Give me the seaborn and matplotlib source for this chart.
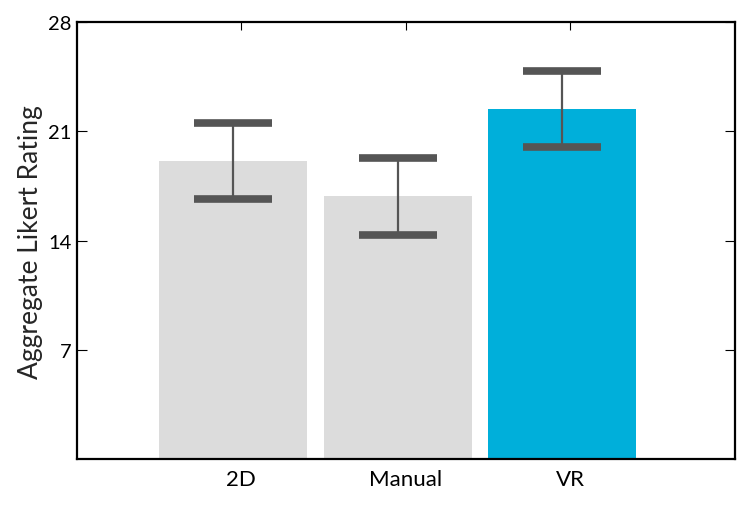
import numpy as np
import pandas as pd
import matplotlib
matplotlib.use("Agg")
import matplotlib.pyplot as plt
import seaborn as sns

conditions = ["2D", "Manual", "VR"]
mean_rating = [19.08, 16.84, 22.44]
err_rating = [2.44, 2.45, 2.43]
bar_colors = ["#dcdcdc", "#dcdcdc", "#00afda"]
y_ticks = [7, 14, 21, 28]

sns.set_style("white")
plt.rcParams["font.family"] = ["Lato", "DejaVu Sans"]

df = pd.DataFrame({"condition": conditions, "rating": mean_rating})

fig = plt.figure(figsize=(7.48, 5.06), dpi=100)
ax = fig.add_axes([0.1025, 0.0909, 0.8801, 0.8631])

sns.barplot(data=df, x="condition", y="rating", hue="condition",
            palette=bar_colors, width=0.9, errorbar=None, legend=False,
            saturation=1, ax=ax)
for p in ax.patches:
    p.set_edgecolor("none")

# error bars drawn on top of the bars
ax.errorbar(np.arange(len(conditions)), mean_rating, yerr=err_rating,
            fmt="none", ecolor="#555555", elinewidth=1.6,
            capsize=28, capthick=5.5, zorder=3)

ax.set_ylim(0, 28)
ax.set_yticks(y_ticks)
ax.set_xlim(-0.95, 3.05)
ax.set_xticks(np.arange(len(conditions)) + 0.05, conditions)
ax.set_xlabel("")
ax.set_ylabel("Aggregate Likert Rating", fontsize=19)

for s in ax.spines.values():
    s.set_visible(True)
    s.set_color("black")
    s.set_linewidth(1.6)

ax.tick_params(axis="both", direction="in", colors="black",
               width=0.8, length=6)
ax.tick_params(axis="y", right=True, left=True, length=7, labelsize=14.5)
ax.tick_params(axis="x", top=True, bottom=True, pad=7, labelsize=16)

fig.savefig("out.png", dpi=100)
